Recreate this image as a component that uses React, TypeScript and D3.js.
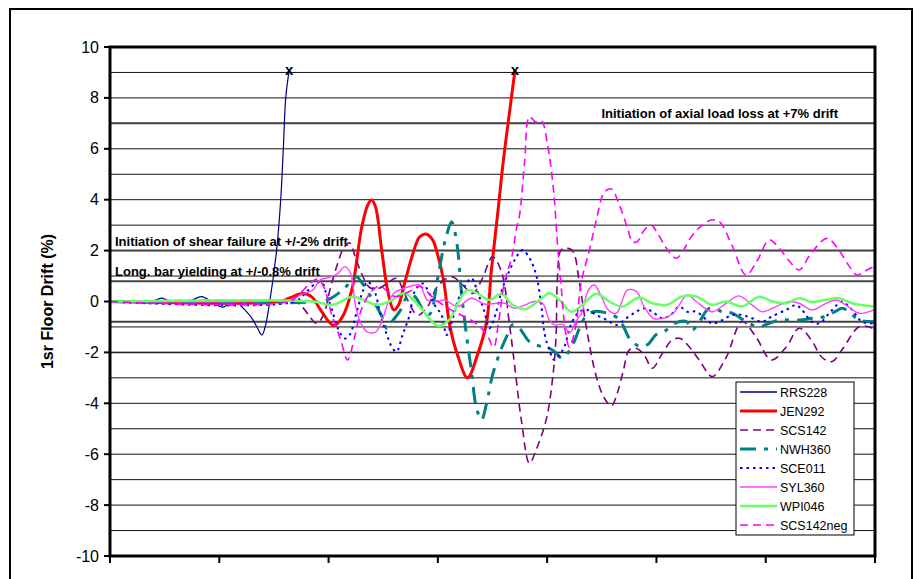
import React from "react";
import * as d3 from "d3";

// ---- Data (time in s, drift in %) ----
const yTicks = [10, 8, 6, 4, 2, 0, -2, -4, -6, -8, -10];
const xTicks = [0, 5, 10, 15, 20, 25, 30, 35];
const gridValues = [9, 8, 7, 6, 5, 4, 3, 2, 1, -1, -2, -3, -4, -5, -6, -7, -8, -9];
const limitValues = [7, 2, 0.8, -0.8];

const RRS228: [number, number][] = [
  [0, 0], [1.37, 0], [2.06, 0.05], [2.38, 0.13], [2.74, 0], [3.34, -0.1], [3.75, 0.05], [4.2, 0.19],
  [4.66, -0.02], [5.16, -0.22], [5.48, -0.06], [5.8, 0], [6.08, -0.25], [6.49, -0.65], [6.72, -1.0],
  [6.95, -1.32], [7.1, -1.0], [7.31, 0], [7.62, 2.0], [7.81, 4.0], [7.93, 6.0], [8.04, 8.0], [8.2, 9.1],
];
const JEN292: [number, number][] = [
  [0, 0], [7.77, 0], [8.22, 0.14], [8.82, 0.31], [9.23, 0.18], [9.69, -0.41], [10.23, -0.94], [10.6, -0.65],
  [11.06, 0.45], [11.51, 2.89], [11.79, 3.79], [11.97, 3.99], [12.15, 3.71], [12.43, 2.02], [12.7, 0.45],
  [12.98, -0.33], [13.2, -0.14], [13.48, 0.73], [13.84, 1.83], [14.16, 2.53], [14.44, 2.65], [14.76, 2.42],
  [14.99, 1.83], [15.26, 0.84], [15.54, -0.92], [15.9, -2.1], [16.36, -3.0], [16.81, -2.1], [17.23, -0.8],
  [17.45, 1.24], [17.73, 3.4], [18.0, 5.56], [18.28, 7.45], [18.53, 9.1],
];
const SCS142: [number, number][] = [
  [0, 0], [8.22, 0], [8.68, -0.1], [8.91, -0.33], [9.46, -0.86], [9.78, -0.5], [10.1, 0.6], [10.42, 1.5],
  [10.69, 2.1], [10.97, 2.3], [11.24, 1.7], [11.56, 1.0], [11.88, 0.55], [12.25, 0.5], [12.66, 0.7],
  [13.11, 0.91], [13.48, 0.3], [14.07, -0.53], [14.53, -0.2], [14.99, 0.6], [15.63, 0.97], [16.13, 0.65],
  [16.59, 0.32], [17.04, 0.91], [17.5, 1.76], [17.91, 1.17], [18.28, -0.92], [18.51, -2.5], [18.83, -4.72],
  [19.19, -6.36], [19.51, -5.8], [19.97, -4.6], [20.24, -3.1], [20.4, -1.5], [20.47, 0.85], [20.62, 2.0],
  [20.84, 2.1], [21.16, 2.0], [21.48, 0.71], [21.84, -1.25], [22.25, -2.95], [22.62, -3.8], [22.94, -4.1],
  [23.21, -3.6], [23.49, -2.7], [23.76, -1.9], [24.08, -1.84], [24.44, -2.1], [24.81, -2.62], [25.27, -2.04],
  [25.72, -1.51], [26.09, -1.45], [26.5, -1.78], [26.96, -2.3], [27.55, -2.95], [28.19, -2.2], [28.92, -0.79],
  [29.56, -1.4], [30.25, -2.3], [30.93, -1.8], [31.53, -1.05], [32.08, -1.5], [32.58, -2.2], [33.04, -2.36],
  [33.49, -1.9], [34.27, -0.99], [34.73, -1.0], [35, -1.1],
];
const NWH360: [number, number][] = [
  [0, 0], [9.6, 0], [10.05, 0.1], [10.42, 0.3], [10.74, 0.52], [11.06, 0.85], [11.28, 0.97], [11.51, 0.75],
  [11.79, 0.39], [12.2, -0.2], [12.48, -0.66], [12.66, -1.05], [12.93, -0.75], [13.25, -0.4], [13.62, 0.2],
  [13.94, 0.2], [14.3, -0.3], [14.62, -0.5], [14.99, 0.91], [15.22, 1.96], [15.4, 2.61], [15.63, 3.13],
  [15.86, 2.35], [16.09, 0.26], [16.31, -1.32], [16.54, -2.76], [16.77, -4.2], [17.0, -4.65], [17.23, -4.0],
  [17.5, -2.89], [17.91, -1.84], [18.19, -1.3], [18.41, -0.92], [18.73, -1.05], [19.19, -1.58], [19.79, -1.78],
  [20.1, -1.84], [20.38, -2.0], [20.7, -2.23], [21.16, -1.71], [21.48, -1.05], [21.75, -0.6], [22.12, -0.4],
  [22.71, -0.45], [23.3, -0.7], [23.53, -1.05], [23.8, -1.5], [24.21, -1.75], [24.58, -1.7], [24.99, -1.3],
  [25.36, -1.18], [25.86, -0.85], [26.37, -0.79], [26.64, -1.12], [26.96, -0.8], [27.42, -0.27], [28.01, -0.4],
  [28.46, -0.46], [29.24, -0.86], [29.7, -0.99], [30.16, -0.86], [30.61, -0.73], [31.53, -0.73], [32.12, -0.66],
  [32.67, -0.6], [33.17, -0.4], [33.49, -0.27], [33.81, -0.4], [34.27, -0.73], [35, -0.8],
];
const SCE011: [number, number][] = [
  [0, 0], [8.45, 0], [9.0, 0.39], [9.5, 0.75], [9.73, 0.7], [9.91, 0.25], [10.14, -0.27], [10.42, -1.05],
  [10.74, -1.45], [10.97, -1.3], [11.29, -0.4], [11.56, 0.39], [11.79, 0.78], [12.11, 0.39], [12.34, -0.4],
  [12.66, -1.3], [12.93, -1.84], [13.11, -1.97], [13.39, -1.3], [13.71, -0.53], [13.94, 0.39], [14.3, 0.71],
  [14.62, 0.3], [14.85, -0.14], [15.17, -0.53], [15.4, -1.32], [15.67, -0.7], [15.9, 0.0], [16.22, 0.58],
  [16.54, 0.91], [16.81, 0.39], [17.13, -0.4], [17.36, -1.05], [17.64, -0.5], [17.91, 0.39], [18.19, 1.04],
  [18.56, 1.7], [18.87, 2.02], [19.24, 1.63], [19.51, 1.0], [19.74, -0.2], [19.88, -1.25], [20.1, -1.9],
  [20.33, -2.3], [20.56, -2.1], [20.79, -1.77], [21.11, -0.86], [21.48, -0.4], [21.84, -0.33], [22.25, -0.53],
  [22.71, -0.72], [23.17, -0.92], [23.62, -0.66], [24.08, -0.4], [24.44, -0.27], [24.81, -0.4], [25.27, -0.66],
  [25.68, -0.5], [26.04, -0.2], [26.41, -0.4], [26.82, -0.4], [27.55, -0.86], [28.01, -0.73], [28.46, -0.53],
  [28.92, -0.53], [29.38, -0.66], [29.84, -0.8], [30.25, -0.6], [30.93, -0.33], [31.39, -0.14], [31.66, -0.33],
  [32.12, -0.8], [32.44, -0.86], [33.04, -0.33], [33.49, 0.0], [33.81, -0.2], [34.13, -0.53], [34.41, -0.8],
  [35, -0.86],
];
const SYL360: [number, number][] = [
  [0, 0], [6.85, 0], [7.77, 0.03], [8.22, 0.05], [8.68, 0.25], [9.28, 0.45], [9.6, 0.84], [10.05, 0.95],
  [10.42, 1.1], [10.74, 1.37], [11.01, 1.1], [11.24, -0.2], [11.51, -0.92], [11.79, -1.2], [12.15, -1.2],
  [12.43, -0.8], [12.7, -0.1], [13.02, 0.35], [13.39, 0.5], [13.76, 0.6], [14.16, 0.65], [14.53, 0.05],
  [14.99, 0], [15.31, 0.06], [15.9, -0.2], [16.54, 0.13], [17.13, -0.1], [17.68, -0.07], [18.05, -0.07],
  [18.51, -0.27], [18.97, -0.14], [19.42, 0.0], [19.79, -0.07], [20.1, -0.73], [20.33, -0.92], [20.74, -0.9],
  [21.02, -1.25], [21.3, -0.8], [21.57, -0.46], [21.89, 0.45], [22.16, 0.65], [22.48, 0.2], [22.8, -0.33],
  [23.17, -0.46], [23.39, -0.07], [23.67, 0.45], [24.08, 0.4], [24.44, -0.2], [24.85, -0.66], [25.31, -0.66],
  [25.77, -0.46], [26.04, -0.14], [26.41, 0.26], [26.82, 0.0], [27.55, -0.4], [28.19, -0.07], [28.78, 0.22],
  [29.38, -0.14], [29.84, -0.4], [30.48, -0.2], [31.07, 0.0], [31.53, -0.07], [32.12, -0.33], [32.76, -0.07],
  [33.22, 0.06], [33.67, -0.14], [34.27, -0.46], [34.73, -0.4], [35, -0.3],
];
const WPI046: [number, number][] = [
  [0, 0], [9.28, 0], [10.19, -0.13], [11.1, 0.19], [12.2, -0.13], [12.79, 0.0], [13.48, 0.32], [14.16, -0.2],
  [14.99, -0.95], [15.54, -0.7], [15.9, -0.1], [16.36, 0.45], [16.81, 0.32], [17.36, 0.06], [17.91, 0.3],
  [18.41, -0.13], [19.01, -0.3], [19.65, 0.06], [20.1, 0.32], [20.56, 0.06], [21.11, -0.4], [21.62, -0.13],
  [22.25, 0.3], [22.85, 0.0], [23.44, -0.2], [24.21, 0.16], [24.81, -0.07], [25.5, -0.13], [26.18, 0.2],
  [26.82, 0.2], [27.55, -0.13], [28.19, 0.0], [28.92, -0.2], [29.7, 0.19], [30.3, 0.0], [30.93, -0.07],
  [31.53, 0.13], [32.12, -0.02], [32.72, 0.06], [33.36, 0.13], [33.94, -0.07], [35, -0.2],
];
const SCS142neg: [number, number][] = [
  [0, 0], [8.22, 0], [8.68, 0.3], [9.14, 0.7], [9.5, 0.88], [9.82, 0.5], [10.14, -0.5], [10.55, -1.5],
  [10.87, -2.3], [11.19, -1.4], [11.51, -0.3], [11.97, 0.4], [12.34, 0.6], [13.02, 0.2], [13.71, 0.4],
  [14.16, 0.6], [14.85, 0.1], [15.54, -0.3], [16.22, -0.6], [16.81, -0.9], [17.27, -1.35], [17.55, -1.8],
  [17.78, -0.8], [18.05, 0.78], [18.37, 1.7], [18.6, 2.88], [18.74, 3.4], [18.97, 5.5], [19.19, 7.26],
  [19.47, 7.06], [19.74, 7.1], [20.01, 6.2], [20.29, 4.4], [20.47, 2.3], [20.65, 0.5], [20.84, -1.2],
  [21.02, -1.8], [21.3, -1.0], [21.57, 0.8], [21.93, 2.0], [22.25, 3.2], [22.62, 4.3], [22.94, 4.42],
  [23.3, 3.8], [23.67, 2.9], [23.9, 2.35], [24.12, 2.35], [24.44, 2.8], [24.76, 3.0], [25.04, 2.7],
  [25.45, 2.1], [25.91, 1.7], [26.23, 2.0], [26.5, 2.42], [26.96, 2.9], [27.51, 3.2], [27.87, 3.15],
  [28.46, 2.2], [29.1, 1.04], [29.61, 1.6], [30.16, 2.42], [30.61, 2.1], [31.07, 1.6], [31.53, 1.24],
  [32.08, 1.9], [32.81, 2.48], [33.36, 2.0], [33.81, 1.4], [34.18, 1.04], [34.55, 1.2], [35, 1.4],
];
const failurePoints: [number, number][] = [[8.2, 9.1], [18.53, 9.1]];

const seriesNames = ["RRS228", "JEN292", "SCS142", "NWH360", "SCE011", "SYL360", "WPI046", "SCS142neg"];
const seriesData = [RRS228, JEN292, SCS142, NWH360, SCE011, SYL360, WPI046, SCS142neg];

const styles = [
  { color: "#000080", width: 1.2, dash: "" },
  { color: "#FF0000", width: 3, dash: "" },
  { color: "#800080", width: 1.6, dash: "8,5" },
  { color: "#008080", width: 3, dash: "16,8,4,8" },
  { color: "#0000FF", width: 2, dash: "2.5,4" },
  { color: "#FF40FF", width: 1.4, dash: "" },
  { color: "#66FF66", width: 2.5, dash: "" },
  { color: "#FF00FF", width: 1.6, dash: "8,5" },
];

const annotations = [
  { text: "Initiation of axial load loss at +7% drift", y: 7, anchor: "end" },
  { text: "Initiation of shear failure at +/-2% drift", y: 2, anchor: "start" },
  { text: "Long. bar yielding at +/-0.8% drift", y: 0.8, anchor: "start" },
];

export default function App() {
  const W = 923, H = 579;
  const L = 110, R = 875, T = 47, B = 556;
  const x = d3.scaleLinear().domain([0, 35]).range([L, R]);
  const y = d3.scaleLinear().domain([-10, 10]).range([B, T]);
  const line = d3
    .line<[number, number]>()
    .x((d) => x(d[0]))
    .y((d) => y(d[1]))
    .curve(d3.curveCatmullRom.alpha(0.5));

  const font = "'Liberation Sans', Arial, sans-serif";

  return (
    <svg
      width={W}
      height={H}
      style={{ position: "absolute", left: 0, top: 0, background: "#fff" }}
      fontFamily={font}
    >
      <rect x={10} y={9} width={902} height={600} fill="#fff" stroke="#000" strokeWidth={2} />
      <defs>
        <clipPath id="plotClip">
          <rect x={L} y={T} width={R - L} height={B - T} />
        </clipPath>
      </defs>
      {/* gridlines */}
      {gridValues.map((v) => (
        <line key={"g" + v} x1={L} x2={R} y1={y(v)} y2={y(v)} stroke="#111" strokeWidth={1} />
      ))}
      {limitValues.map((v) => (
        <line key={"l" + v} x1={L} x2={R} y1={y(v)} y2={y(v)} stroke="#444" strokeWidth={2} />
      ))}
      <line x1={L} x2={R} y1={y(-2)} y2={y(-2)} stroke="#222" strokeWidth={1.5} />
      {/* annotations */}
      {annotations.map((a) => (
        <text
          key={a.text}
          x={a.anchor === "end" ? 838 : 115}
          y={y(a.y) - 5}
          textAnchor={a.anchor as any}
          fontSize={13}
          fontWeight="bold"
          fill="#000"
        >
          {a.text}
        </text>
      ))}
      {/* series */}
      <g clipPath="url(#plotClip)">
        {seriesData.map((data, i) => (
          <path
            key={seriesNames[i]}
            d={line(data) || ""}
            fill="none"
            stroke={styles[i].color}
            strokeWidth={styles[i].width}
            strokeDasharray={styles[i].dash || undefined}
            strokeLinejoin="round"
          />
        ))}
      </g>
      {/* failure markers */}
      {failurePoints.map((p, i) => (
        <text
          key={"x" + i}
          x={x(p[0])}
          y={y(p[1]) + 5}
          textAnchor="middle"
          fontSize={15}
          fontWeight="bold"
          fill="#000"
        >
          x
        </text>
      ))}
      {/* plot frame */}
      <rect x={L} y={T} width={R - L} height={B - T} fill="none" stroke="#000" strokeWidth={3} />
      {/* y ticks */}
      {yTicks.map((v) => (
        <g key={"yt" + v}>
          <line x1={L - 6} x2={L} y1={y(v)} y2={y(v)} stroke="#000" strokeWidth={2} />
          <text x={L - 11} y={y(v) + 5.5} textAnchor="end" fontSize={16} fill="#000">
            {v}
          </text>
        </g>
      ))}
      {/* x ticks */}
      {xTicks.map((v) => (
        <line key={"xt" + v} x1={x(v)} x2={x(v)} y1={B} y2={B + 7} stroke="#000" strokeWidth={2} />
      ))}
      {/* y title */}
      <text
        transform={`translate(53,${(T + B) / 2}) rotate(-90)`}
        textAnchor="middle"
        fontSize={16}
        fontWeight="bold"
        fill="#000"
      >
        1sr Floor Drift (%)
      </text>
      {/* legend */}
      <g>
        <rect x={736} y={382} width={118} height={153} fill="#fff" stroke="#000" strokeWidth={1} />
        {seriesNames.map((name, i) => {
          const cy = 392 + i * 19;
          return (
            <g key={"lg" + name}>
              <line
                x1={740}
                x2={777}
                y1={cy}
                y2={cy}
                stroke={styles[i].color}
                strokeWidth={Math.max(styles[i].width, 1.5)}
                strokeDasharray={styles[i].dash || undefined}
              />
              <text x={780} y={cy + 4.5} fontSize={12.5} fill="#000">
                {name}
              </text>
            </g>
          );
        })}
      </g>
    </svg>
  );
}
